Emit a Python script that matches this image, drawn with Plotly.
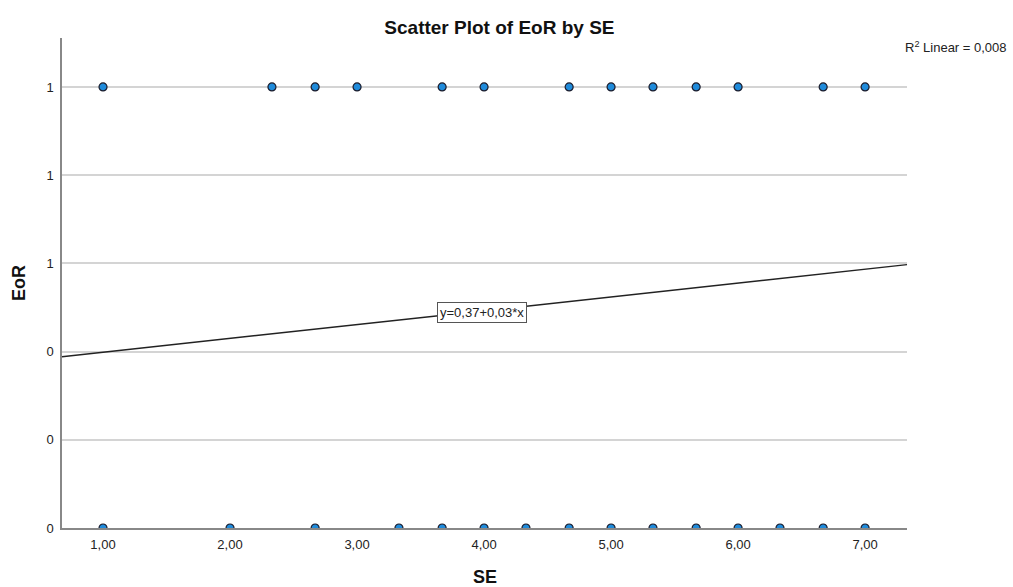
import plotly.graph_objects as go

# data
se_eor1 = [1.00, 2.33, 2.67, 3.00, 3.67, 4.00, 4.67, 5.00, 5.33, 5.67, 6.00, 6.67, 7.00]
se_eor0 = [1.00, 2.00, 2.67, 3.33, 3.67, 4.00, 4.33, 4.67, 5.00, 5.33, 5.67, 6.00, 6.33, 6.67, 7.00]
fit_intercept = 0.367
fit_slope = 0.0314
fit_label = "y=0,37+0,03*x"
r2_label = "R<sup>2</sup> Linear = 0,008"
x_title = "SE"
y_title = "EoR"
x_ticks = [1, 2, 3, 4, 5, 6, 7]
x_ticklabels = ["1,00", "2,00", "3,00", "4,00", "5,00", "6,00", "7,00"]
y_ticks = [0, 0.2, 0.4, 0.6, 0.8, 1.0]
y_ticklabels = ["0", "0", "0", "1", "1", "1"]

x_range = [0.677, 7.33]
y_range = [0, 1.111]

xs = se_eor1 + se_eor0
ys = [1] * len(se_eor1) + [0] * len(se_eor0)

fig = go.Figure()
fig.add_trace(go.Scatter(
    x=xs, y=ys, mode="markers",
    marker=dict(size=8, color="#1f8bdb", line=dict(color="#1b1b2a", width=1.2)),
    cliponaxis=True, showlegend=False, hoverinfo="x+y"))

def to_dom(v, r):
    return (v - r[0]) / (r[1] - r[0])

ya = fit_intercept + fit_slope * x_range[0]
yb = fit_intercept + fit_slope * x_range[1]
fig.add_shape(type="line", xref="x domain", yref="y domain",
              x0=0, x1=1, y0=to_dom(ya, y_range), y1=to_dom(yb, y_range),
              line=dict(color="#222222", width=1.5), layer="above")

xm = 3.98
fig.add_annotation(x=xm, y=fit_intercept + fit_slope * xm - 0.004, xref="x", yref="y",
                   text=fit_label, showarrow=False,
                   font=dict(family="Liberation Sans", size=13, color="#222"),
                   bgcolor="white", bordercolor="#555", borderwidth=1, borderpad=2)

fig.add_annotation(x=1.0, y=1.0, xref="paper", yref="paper", xanchor="right", yanchor="middle",
                   xshift=102, yshift=-9,
                   text=r2_label, showarrow=False,
                   font=dict(family="Liberation Sans", size=13, color="#222"))

# axis titles
fig.add_annotation(x=0.5, y=0, xref="paper", yref="paper", xanchor="center", yanchor="middle",
                   yshift=-49, text="<b>%s</b>" % x_title, showarrow=False,
                   font=dict(family="Liberation Sans", size=18, color="#111"))
fig.add_annotation(x=0, y=0.5, xref="paper", yref="paper", xanchor="center", yanchor="middle",
                   xshift=-43, textangle=-90, text="<b>%s</b>" % y_title, showarrow=False,
                   font=dict(family="Liberation Sans", size=18, color="#111"))

fig.update_layout(
    width=1013, height=587,
    margin=dict(l=62, r=106, t=38, b=59),
    paper_bgcolor="white", plot_bgcolor="white",
    font=dict(family="Liberation Sans", size=12, color="#222"),
    title=dict(text="<b>Scatter Plot of EoR by SE</b>", x=0.493, xanchor="center",
               y=0.954, yanchor="middle", font=dict(size=19, color="#111")),
    xaxis=dict(range=x_range, tickvals=x_ticks, ticktext=x_ticklabels, automargin=False,
               showgrid=False, zeroline=False, showline=True, linecolor="#888", linewidth=1.5,
               ticks="", ticklen=0, ticklabelstandoff=4,
               tickfont=dict(size=13, color="#222")),
    yaxis=dict(range=y_range, tickvals=y_ticks, ticktext=y_ticklabels, automargin=False,
               showgrid=True, gridcolor="#d4d4d4", gridwidth=1.5,
               zeroline=False, showline=True, linecolor="#888", linewidth=1.5,
               ticks="", ticklabelstandoff=4, tickfont=dict(size=13, color="#222")),
)

fig.write_html("out.html")
